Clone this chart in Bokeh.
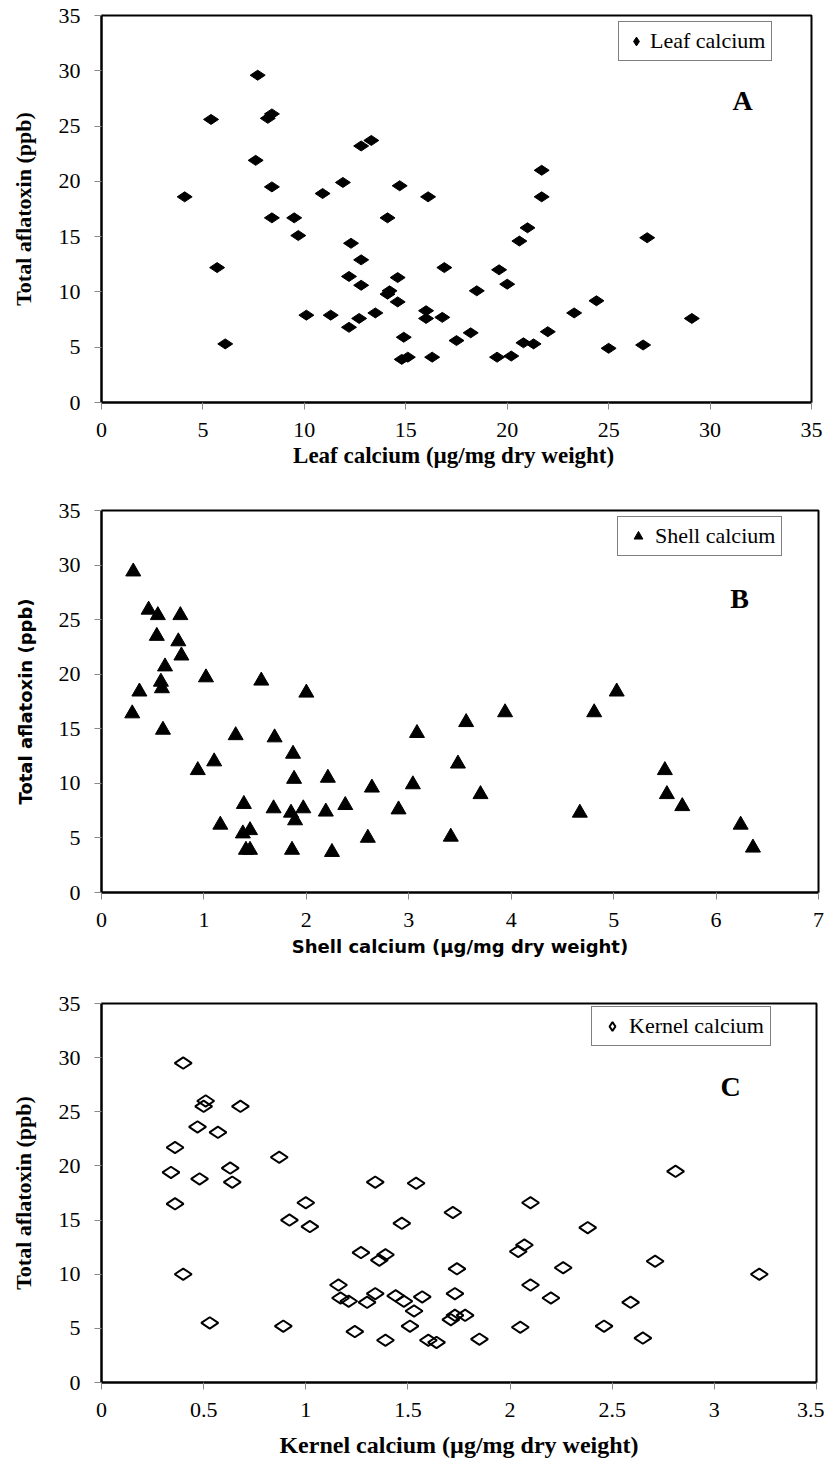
import math
from bokeh.plotting import figure
from bokeh.layouts import column
from bokeh.models import Range1d, FixedTicker, NumeralTickFormatter, Legend, LegendItem, Label
from bokeh.embed import file_html
from bokeh.resources import INLINE

# ---------------- data ----------------
leaf_x = [7.7, 5.4, 8.4, 8.2, 12.8, 13.3, 7.6, 4.1, 8.4, 10.9,
          11.9, 14.7, 16.1, 8.4, 9.5, 9.7, 14.1, 5.7, 12.3, 12.8,
          12.2, 12.8, 14.6, 16.9, 14.2, 14.1, 14.6, 10.1, 11.3, 12.7,
          13.5, 12.2, 16.0, 16.0, 16.8, 14.9, 6.1, 14.8, 15.1, 16.3,
          17.5, 18.2, 21.7, 21.7, 21.0, 20.6, 26.9, 19.6, 20.0, 18.5,
          24.4, 23.3, 29.1, 22.0, 20.8, 21.3, 19.5, 20.2, 25.0, 26.7]
leaf_y = [29.6, 25.6, 26.1, 25.7, 23.2, 23.7, 21.9, 18.6, 19.5, 18.9,
          19.9, 19.6, 18.6, 16.7, 16.7, 15.1, 16.7, 12.2, 14.4, 12.9,
          11.4, 10.6, 11.3, 12.2, 10.1, 9.8, 9.1, 7.9, 7.9, 7.6,
          8.1, 6.8, 8.3, 7.6, 7.7, 5.9, 5.3, 3.9, 4.1, 4.1,
          5.6, 6.3, 21.0, 18.6, 15.8, 14.6, 14.9, 12.0, 10.7, 10.1,
          9.2, 8.1, 7.6, 6.4, 5.4, 5.3, 4.1, 4.2, 4.9, 5.2]

shell_x = [0.31, 0.46, 0.55, 0.77, 0.54, 0.75, 0.78, 0.62, 1.02, 0.58,
           0.59, 0.37, 1.56, 2.00, 0.30, 0.60, 1.31, 1.69, 1.87, 0.94,
           1.10, 1.88, 2.21, 2.64, 3.04, 3.08, 3.56, 3.48, 1.39, 1.68,
           1.85, 1.97, 1.89, 2.19, 2.38, 2.90, 1.16, 1.38, 1.45, 1.41,
           1.45, 1.86, 2.25, 2.60, 3.41, 3.94, 3.70, 5.03, 4.81, 4.67,
           5.50, 5.52, 5.67, 6.24, 6.36]
shell_y = [29.4, 25.9, 25.4, 25.4, 23.5, 23.0, 21.7, 20.7, 19.7, 19.3,
           18.7, 18.4, 19.4, 18.3, 16.4, 14.9, 14.4, 14.2, 12.7, 11.2,
           12.0, 10.4, 10.5, 9.6, 9.9, 14.6, 15.6, 11.8, 8.1, 7.7,
           7.3, 7.7, 6.6, 7.4, 8.0, 7.6, 6.2, 5.4, 5.7, 3.9,
           3.9, 3.9, 3.7, 5.0, 5.1, 16.5, 9.0, 18.4, 16.5, 7.3,
           11.2, 9.0, 7.9, 6.2, 4.1]

kernel_x = [0.40, 0.51, 0.50, 0.68, 0.47, 0.57, 0.36, 0.87, 0.34, 0.63,
            0.48, 0.64, 1.34, 1.54, 0.36, 1.00, 0.92, 1.02, 1.47, 1.72,
            1.27, 1.39, 1.36, 0.40, 1.74, 1.16, 1.17, 1.21, 1.30, 1.34,
            1.44, 1.48, 1.57, 1.53, 1.73, 1.71, 1.73, 1.78, 0.53, 0.89,
            1.24, 1.51, 1.39, 1.60, 1.64, 2.10, 2.81, 2.38, 2.07, 2.04,
            2.26, 2.71, 3.22, 2.10, 2.20, 2.59, 2.05, 2.46, 1.85, 2.65]
kernel_y = [29.5, 26.0, 25.5, 25.5, 23.6, 23.1, 21.7, 20.8, 19.4, 19.8,
            18.8, 18.5, 18.5, 18.4, 16.5, 16.6, 15.0, 14.4, 14.7, 15.7,
            12.0, 11.8, 11.3, 10.0, 10.5, 9.0, 7.8, 7.5, 7.4, 8.2,
            8.0, 7.5, 7.9, 6.6, 8.2, 5.8, 6.2, 6.2, 5.5, 5.2,
            4.7, 5.2, 3.9, 3.9, 3.7, 16.6, 19.5, 14.3, 12.7, 12.1,
            10.6, 11.2, 10.0, 9.0, 7.8, 7.4, 5.1, 5.2, 4.0, 4.1]

y_ticks = [0, 5, 10, 15, 20, 25, 30, 35]
leaf_ticks = [0, 5, 10, 15, 20, 25, 30, 35]
shell_ticks = [0, 1, 2, 3, 4, 5, 6, 7]
kernel_ticks = [0, 0.5, 1, 1.5, 2, 2.5, 3, 3.5]

y_title = "Total aflatoxin (ppb)"
SERIF = "Liberation Serif"
SANS = "DejaVu Sans"


def make_panel(xs, ys, xticks, xtitle, title_font, title_size, series_label, letter,
               marker, size, fill, frame_w, frame_h, left, right, top, bottom,
               xlab_standoff, ylab_standoff, legend_loc, glyph_w, letter_pos):
    p = figure(width=left + frame_w + right, height=top + frame_h + bottom,
               frame_width=frame_w, frame_height=frame_h,
               min_border_left=left, min_border_right=right,
               min_border_top=top, min_border_bottom=bottom,
               x_range=Range1d(xticks[0], xticks[-1]), y_range=Range1d(0, 35),
               output_backend="svg", toolbar_location=None,
               background_fill_color="white", border_fill_color="white")
    p.outline_line_color = "black"
    p.outline_line_width = 2
    p.grid.visible = False

    for ax in (p.xaxis[0], p.yaxis[0]):
        ax.axis_line_color = "black"
        ax.axis_line_width = 2
        ax.major_tick_line_color = "#8a8a8a"
        ax.major_tick_line_width = 1
        ax.major_tick_in = 0
        ax.major_tick_out = 7
        ax.minor_tick_line_color = None
        ax.major_label_text_font = SERIF
        ax.major_label_text_font_size = "22px"
        ax.major_label_text_color = "black"
        ax.axis_label_text_font = title_font
        ax.axis_label_text_font_style = "bold"
        ax.axis_label_text_color = "black"

    p.xaxis[0].ticker = FixedTicker(ticks=xticks)
    p.xaxis[0].formatter = NumeralTickFormatter(format="0.[0]")
    p.xaxis[0].axis_label = xtitle
    p.xaxis[0].axis_label_text_font_size = title_size
    p.xaxis[0].major_label_standoff = 13
    p.xaxis[0].axis_label_standoff = xlab_standoff

    p.yaxis[0].ticker = FixedTicker(ticks=y_ticks)
    p.yaxis[0].axis_label = y_title
    p.yaxis[0].axis_label_text_font_size = "22px" if title_font == SERIF else "18px"
    p.yaxis[0].major_label_standoff = 14
    p.yaxis[0].axis_label_standoff = ylab_standoff

    if fill:
        r = p.scatter(xs, ys, marker=marker, size=size,
                      angle=(math.pi / 2 if marker == "diamond" else 0),
                      fill_color="black", line_color="black", line_width=1)
    else:
        r = p.scatter(xs, ys, marker=marker, size=size, angle=math.pi / 2,
                      fill_color=None, line_color="black", line_width=2)

    leg = Legend(items=[LegendItem(label=series_label, renderers=[r])],
                 location=legend_loc, border_line_color="black", border_line_width=1,
                 background_fill_color="white", background_fill_alpha=1.0,
                 label_text_font=SERIF, label_text_font_size="22px",
                 label_text_color="black", padding=6, margin=0,
                 glyph_width=glyph_w, glyph_height=22, label_standoff=3, spacing=0)
    p.add_layout(leg)

    p.add_layout(Label(x=letter_pos[0], y=letter_pos[1], text=letter,
                       text_font=SERIF, text_font_style="bold",
                       text_font_size="28px", text_align="center",
                       text_baseline="middle", text_color="black"))
    return p


pA = make_panel(leaf_x, leaf_y, leaf_ticks, "Leaf calcium (µg/mg  dry weight)", SERIF, "23px",
                "Leaf calcium", "A", "diamond", 15, True,
                frame_w=710, frame_h=387, left=101, right=12, top=15, bottom=88,
                xlab_standoff=3, ylab_standoff=20, legend_loc=(517, 341), glyph_w=22,
                letter_pos=(31.6, 27.3))
pB = make_panel(shell_x, shell_y, shell_ticks, "Shell calcium (µg/mg dry weight)", SANS, "18px",
                "Shell calcium", "B", "triangle", 15, True,
                frame_w=717, frame_h=382, left=100, right=8, top=20, bottom=90,
                xlab_standoff=6, ylab_standoff=20, legend_loc=(516, 336), glyph_w=28,
                letter_pos=(6.23, 26.9))
pC = make_panel(kernel_x, kernel_y, kernel_ticks, "Kernel calcium (µg/mg dry weight)", SERIF, "24px",
                "Kernel calcium", "C", "diamond", 17, False,
                frame_w=715, frame_h=379, left=99, right=10, top=21, bottom=82,
                xlab_standoff=12, ylab_standoff=20, legend_loc=(490, 336), glyph_w=28,
                letter_pos=(3.08, 27.35))

layout = column(pA, pB, pC, spacing=0)
open("out.html", "w").write(file_html(layout, INLINE))
